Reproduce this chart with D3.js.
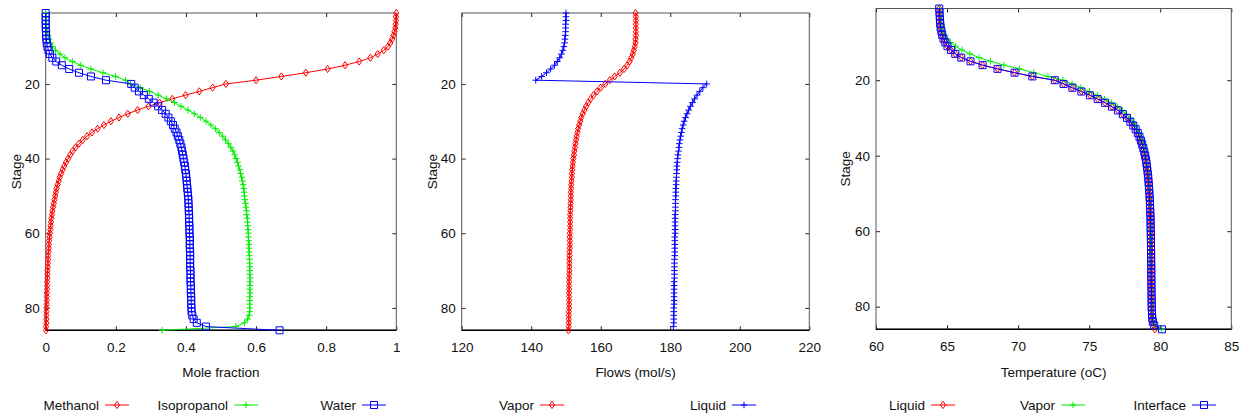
<!DOCTYPE html>
<html>
<head>
<meta charset="utf-8">
<script src="https://cdn.jsdelivr.net/npm/d3@7"></script>
<style>
body { margin: 0; background: #fff; }
svg { display: block; font-family: "Liberation Sans", Arial, sans-serif; }
</style>
</head>
<body>
<svg id="fig" width="1247" height="416"></svg>
<script>
// Stage numbers (top = 1)
var stages = [1,2,3,4,5,6,7,8,9,10,11,12,13,14,15,16,17,18,19,20,
  21,22,23,24,25,26,27,28,29,30,31,32,33,34,35,36,37,38,39,40,
  41,42,43,44,45,46,47,48,49,50,51,52,53,54,55,56,57,58,59,60,
  61,62,63,64,65,66,67,68,69,70,71,72,73,74,75,76,77,78,79,80,
  81,82,83,84,85,86];

// Liquid mole fractions
var methanol = [1.000,0.999,0.999,0.998,0.997,0.995,0.992,0.988,0.983,0.976,
  0.964,0.947,0.926,0.894,0.854,0.804,0.742,0.672,0.600,0.514,
  0.476,0.438,0.399,0.361,0.325,0.293,0.262,0.234,0.209,0.186,
  0.166,0.148,0.132,0.118,0.106,0.095,0.085,0.077,0.070,0.064,
  0.058,0.053,0.048,0.044,0.040,0.037,0.034,0.031,0.029,0.027,
  0.025,0.023,0.021,0.019,0.018,0.016,0.015,0.014,0.013,0.012,
  0.011,0.010,0.009,0.009,0.008,0.007,0.007,0.006,0.006,0.005,
  0.005,0.005,0.004,0.004,0.004,0.003,0.003,0.003,0.003,0.002,
  0.002,0.002,0.002,0.002,0.001,0.001];
var isopropanol = [0.000,0.001,0.001,0.002,0.003,0.004,0.007,0.010,0.014,0.019,
  0.028,0.041,0.055,0.076,0.100,0.129,0.163,0.199,0.228,0.242,
  0.270,0.296,0.321,0.345,0.367,0.386,0.406,0.424,0.441,0.457,
  0.471,0.484,0.495,0.505,0.513,0.521,0.528,0.534,0.539,0.543,
  0.547,0.550,0.554,0.556,0.559,0.561,0.563,0.565,0.566,0.567,
  0.568,0.570,0.571,0.573,0.573,0.575,0.576,0.576,0.577,0.578,
  0.578,0.579,0.580,0.580,0.580,0.581,0.581,0.582,0.582,0.582,
  0.582,0.583,0.583,0.582,0.582,0.583,0.582,0.582,0.582,0.582,
  0.582,0.580,0.576,0.567,0.542,0.332];
var water = [0.000,0.000,0.000,0.000,0.000,0.001,0.001,0.002,0.003,0.005,
  0.008,0.012,0.019,0.030,0.046,0.067,0.095,0.129,0.172,0.244,
  0.254,0.266,0.280,0.294,0.308,0.321,0.332,0.342,0.350,0.357,
  0.363,0.368,0.373,0.377,0.381,0.384,0.387,0.389,0.391,0.393,
  0.395,0.397,0.398,0.400,0.401,0.402,0.403,0.404,0.405,0.406,
  0.407,0.407,0.408,0.408,0.409,0.409,0.409,0.410,0.410,0.410,
  0.411,0.411,0.411,0.411,0.412,0.412,0.412,0.412,0.412,0.413,
  0.413,0.413,0.413,0.414,0.414,0.414,0.415,0.415,0.415,0.416,
  0.416,0.418,0.422,0.431,0.457,0.667];

// Flows (mol/s); liquid stops at stage 85
var vaporFlow = [170.0,170.1,170.1,170.1,170.1,170.1,170.1,170.0,170.0,169.8,
  169.5,169.2,168.8,168.3,167.6,166.7,165.5,164.0,162.6,161.3,
  160.0,158.9,157.9,157.1,156.4,155.8,155.3,154.8,154.4,154.1,
  153.8,153.5,153.3,153.1,152.9,152.7,152.6,152.4,152.3,152.1,
  152.0,151.9,151.8,151.7,151.7,151.6,151.5,151.5,151.4,151.4,
  151.4,151.3,151.3,151.3,151.2,151.2,151.2,151.2,151.2,151.1,
  151.1,151.1,151.1,151.1,151.0,151.0,151.0,151.0,151.0,151.0,
  151.0,150.9,150.9,150.9,150.9,150.9,150.9,150.9,150.9,150.9,
  150.8,150.8,150.8,150.8,150.8,150.7];
var liquidFlow = [150.0,150.0,150.0,149.9,149.9,149.9,149.8,149.7,149.6,149.4,
  149.1,148.7,148.2,147.5,146.7,145.6,144.4,143.0,141.3,190.5,
  189.4,188.5,187.7,187.0,186.4,185.8,185.3,184.8,184.4,184.0,
  183.7,183.4,183.2,183.0,182.8,182.6,182.5,182.4,182.2,182.1,
  182.0,181.9,181.9,181.8,181.8,181.7,181.7,181.6,181.6,181.6,
  181.5,181.5,181.5,181.5,181.4,181.4,181.4,181.4,181.4,181.4,
  181.3,181.3,181.3,181.3,181.3,181.3,181.2,181.2,181.2,181.2,
  181.2,181.2,181.1,181.1,181.1,181.1,181.1,181.1,181.1,181.0,
  181.0,181.0,181.0,181.0,180.9];

// Temperatures (oC)
var liquidTemp = [64.45,64.47,64.48,64.50,64.52,64.55,64.60,64.66,64.75,64.88,
  65.03,65.28,65.58,66.00,66.65,67.50,68.55,69.75,71.00,72.58,
  73.20,73.82,74.45,75.05,75.60,76.12,76.60,77.02,77.37,77.66,
  77.90,78.10,78.27,78.42,78.54,78.64,78.73,78.81,78.88,78.94,
  78.99,79.03,79.07,79.10,79.13,79.16,79.18,79.20,79.22,79.24,
  79.25,79.27,79.28,79.29,79.30,79.31,79.32,79.32,79.33,79.33,
  79.34,79.34,79.35,79.35,79.35,79.36,79.36,79.36,79.37,79.37,
  79.37,79.37,79.38,79.38,79.38,79.39,79.39,79.39,79.40,79.40,
  79.41,79.42,79.44,79.48,79.55,79.62];
var vaporTemp = [64.48,64.50,64.52,64.55,64.58,64.63,64.70,64.80,64.98,65.25,
  65.60,66.05,66.60,67.25,68.05,69.00,70.10,71.10,72.10,73.15,
  73.80,74.42,75.02,75.57,76.08,76.56,76.98,77.34,77.63,77.88,
  78.08,78.25,78.40,78.52,78.62,78.71,78.79,78.86,78.92,78.97,
  79.01,79.05,79.09,79.12,79.15,79.17,79.19,79.21,79.23,79.25,
  79.26,79.28,79.29,79.30,79.31,79.32,79.33,79.33,79.34,79.34,
  79.35,79.35,79.36,79.36,79.36,79.37,79.37,79.37,79.38,79.38,
  79.38,79.38,79.39,79.39,79.39,79.40,79.40,79.40,79.41,79.41,
  79.42,79.43,79.46,79.51,79.60,80.10];
var interfaceTemp = [64.45,64.47,64.48,64.50,64.52,64.55,64.60,64.66,64.75,64.88,
  65.03,65.28,65.58,66.00,66.65,67.50,68.55,69.75,71.00,72.58,
  73.20,73.82,74.45,75.05,75.60,76.12,76.60,77.02,77.37,77.66,
  77.90,78.10,78.27,78.42,78.54,78.64,78.73,78.81,78.88,78.94,
  78.99,79.03,79.07,79.10,79.13,79.16,79.18,79.20,79.22,79.24,
  79.25,79.27,79.28,79.29,79.30,79.31,79.32,79.32,79.33,79.33,
  79.34,79.34,79.35,79.35,79.35,79.36,79.36,79.36,79.37,79.37,
  79.37,79.37,79.38,79.38,79.38,79.39,79.39,79.39,79.40,79.40,
  79.41,79.42,79.44,79.48,79.58,80.12];

// Tick labels
var moleTicks = [0, 0.2, 0.4, 0.6, 0.8, 1];
var flowTicks = [120, 140, 160, 180, 200, 220];
var tempTicks = [60, 65, 70, 75, 80, 85];
var stageTicks = [20, 40, 60, 80];

var svg = d3.select("#fig");
var fontSize = "13.5px";

// marker shapes
var markers = {
  diamond: "M0,-3.6L2.6,0L0,3.6L-2.6,0Z",
  plus: "M-3.3,0H3.3M0,-3.3V3.3",
  square: "M-3.5,-3.5H3.5V3.5H-3.5Z"
};

var panels = [
  {
    left: 45.7, right: 396.3, top: 13, bottom: 330.3,
    xDomain: [0, 1], xTicks: moleTicks, xTitle: "Mole fraction", stageX: 16,
    series: [
      {name: "Methanol", values: methanol, color: "#ff0000", marker: "diamond", legendX: 105},
      {name: "Isopropanol", values: isopropanol, color: "#00ee00", marker: "plus", legendX: 234},
      {name: "Water", values: water, color: "#0000ff", marker: "square", legendX: 362}
    ]
  },
  {
    left: 461.7, right: 809.3, top: 13, bottom: 330.3,
    xDomain: [120, 220], xTicks: flowTicks, xTitle: "Flows (mol/s)", stageX: 432,
    series: [
      {name: "Vapor", values: vaporFlow, color: "#ff0000", marker: "diamond", legendX: 540},
      {name: "Liquid", values: liquidFlow, color: "#0000ff", marker: "plus", legendX: 732}
    ]
  },
  {
    left: 876, right: 1231.3, top: 8.5, bottom: 329.3,
    xDomain: [60, 85], xTicks: tempTicks, xTitle: "Temperature (oC)", stageX: 845,
    series: [
      {name: "Liquid", values: liquidTemp, color: "#ff0000", marker: "diamond", legendX: 931},
      {name: "Vapor", values: vaporTemp, color: "#00ee00", marker: "plus", legendX: 1061},
      {name: "Interface", values: interfaceTemp, color: "#0000ff", marker: "square", legendX: 1192}
    ]
  }
];

panels.forEach(function(p) {
  var x = d3.scaleLinear().domain(p.xDomain).range([p.left, p.right]);
  var y = d3.scaleLinear().domain([1, 86]).range([p.top, p.bottom]);
  var g = svg.append("g");

  // axes, ticks pointing inward
  var bottomAxis = g.append("g")
    .attr("transform", "translate(0," + p.bottom + ")")
    .call(d3.axisBottom(x).tickValues(p.xTicks).tickFormat(d3.format("~g"))
      .tickSize(-4).tickPadding(12));
  var topAxis = g.append("g")
    .attr("transform", "translate(0," + p.top + ")")
    .call(d3.axisTop(x).tickValues(p.xTicks).tickFormat("").tickSize(-4));
  var leftAxis = g.append("g")
    .attr("transform", "translate(" + p.left + ",0)")
    .call(d3.axisLeft(y).tickValues(stageTicks).tickSize(-4).tickPadding(6));
  var rightAxis = g.append("g")
    .attr("transform", "translate(" + p.right + ",0)")
    .call(d3.axisRight(y).tickValues(stageTicks).tickFormat("").tickSize(-4));

  [bottomAxis, topAxis, leftAxis, rightAxis].forEach(function(a) {
    a.select(".domain").remove();
    a.selectAll("line").attr("stroke", "#222");
    a.selectAll("text")
      .attr("fill", "#111")
      .style("font-family", "'Liberation Sans', Arial, sans-serif")
      .style("font-size", fontSize);
  });

  // frame
  g.append("rect")
    .attr("x", p.left).attr("y", p.top)
    .attr("width", p.right - p.left).attr("height", p.bottom - p.top)
    .attr("fill", "none").attr("stroke", "#555").attr("stroke-width", 1);
  g.append("line")
    .attr("x1", p.left).attr("x2", p.right)
    .attr("y1", p.bottom).attr("y2", p.bottom)
    .attr("stroke", "#000").attr("stroke-width", 1.4);

  // titles
  g.append("text")
    .attr("x", (p.left + p.right) / 2).attr("y", 377)
    .attr("text-anchor", "middle")
    .style("font-size", fontSize).attr("fill", "#111")
    .text(p.xTitle);
  g.append("text")
    .attr("transform", "translate(" + p.stageX + "," + ((p.top + p.bottom) / 2 + 0) + ") rotate(-90)")
    .attr("text-anchor", "middle").attr("dy", "0.35em")
    .style("font-size", fontSize).attr("fill", "#111")
    .text("Stage");

  // series
  p.series.forEach(function(s) {
    var pts = s.values.map(function(v, i) { return [v, stages[i]]; });
    var line = d3.line()
      .x(function(d) { return x(d[0]); })
      .y(function(d) { return y(d[1]); });

    g.append("path")
      .datum(pts)
      .attr("d", line)
      .attr("fill", "none")
      .attr("stroke", s.color)
      .attr("stroke-width", 1);

    g.append("g").selectAll("path")
      .data(pts)
      .enter()
      .append("path")
      .attr("d", markers[s.marker])
      .attr("transform", function(d) { return "translate(" + x(d[0]) + "," + y(d[1]) + ")"; })
      .attr("fill", "none")
      .attr("stroke", s.color)
      .attr("stroke-width", 1);

    // legend
    var lg = svg.append("g").attr("transform", "translate(" + s.legendX + ",405)");
    lg.append("text")
      .attr("x", -6).attr("y", 4.7)
      .attr("text-anchor", "end")
      .style("font-size", fontSize).attr("fill", "#111")
      .text(s.name);
    lg.append("line")
      .attr("x1", 0).attr("x2", 24).attr("y1", 0).attr("y2", 0)
      .attr("stroke", s.color).attr("stroke-width", 1);
    lg.append("path")
      .attr("d", markers[s.marker])
      .attr("transform", "translate(12,0)")
      .attr("fill", "none").attr("stroke", s.color).attr("stroke-width", 1);
  });
});
</script>
</body>
</html>
